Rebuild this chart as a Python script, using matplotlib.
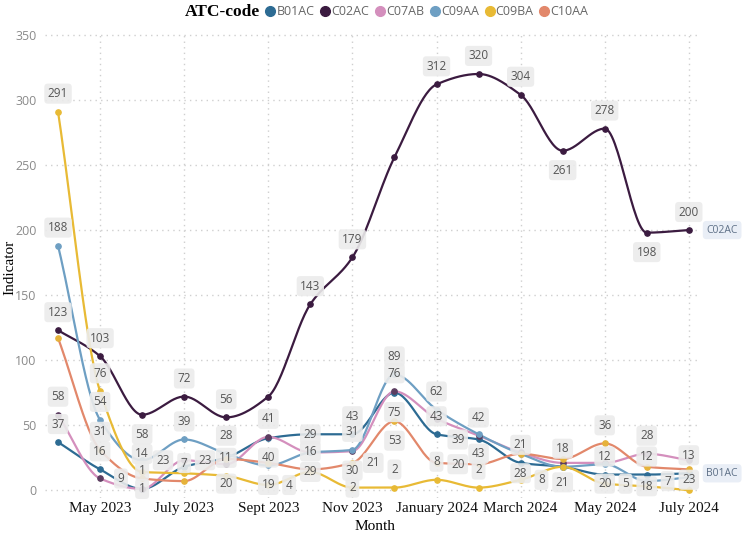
import numpy as np
import matplotlib.pyplot as plt
from matplotlib.lines import Line2D

# months Apr 2023 .. Jul 2024
months = ['Apr 2023', 'May 2023', 'Jun 2023', 'Jul 2023', 'Aug 2023', 'Sep 2023',
          'Oct 2023', 'Nov 2023', 'Dec 2023', 'Jan 2024', 'Feb 2024', 'Mar 2024',
          'Apr 2024', 'May 2024', 'Jun 2024', 'Jul 2024']
tick_idx = [1, 3, 5, 7, 9, 11, 13, 15]
tick_labels = ['May 2023', 'July 2023', 'Sept 2023', 'Nov 2023', 'January 2024',
               'March 2024', 'May 2024', 'July 2024']

b01ac = [37, 16, 1, 18, 25, 40, 43, 43, 75, 43, 39, 21, 18, 12, 12, 13]
c02ac = [123, 103, 58, 72, 56, 72, 143, 179, 256, 312, 320, 304, 261, 278, 198, 200]
c07ab = [58, 9, 1, 23, 20, 41, 29, 30, 76, 55, 42, 29, 21, 21, 28, 23]
c09aa = [188, 54, 23, 39, 28, 19, 29, 31, 89, 62, 43, 28, 18, 20, 7, 10]
c09ba = [291, 76, 14, 13, 11, 4, 14, 2, 2, 8, 2, 8, 18, 5, 3, 0]
c10aa = [117, 31, 9, 7, 24, 21, 16, 21, 53, 21, 20, 28, 24, 36, 18, 16]

# where the data label sits: a=above, b=below, r=right, l=left, c=on point
b01ac_lab = {0: 'a', 1: 'a', 2: 'a', 5: 'b', 7: 'a', 8: 'b', 9: 'a', 10: 'l',
             11: 'a', 13: 'a', 14: 'a', 15: 'a'}
c02ac_lab = {0: 'a', 1: 'a', 2: 'b', 3: 'a', 4: 'a', 6: 'a', 7: 'a', 9: 'a',
             10: 'a', 11: 'a', 12: 'b', 13: 'a', 14: 'b', 15: 'a'}
c07ab_lab = {0: 'a', 1: 'r', 2: 'c', 3: 'r', 4: 'b', 5: 'a', 6: 'b', 7: 'b',
             8: 'a', 10: 'a', 12: 'b', 14: 'a', 15: 'b'}
c09aa_lab = {0: 'a', 1: 'a', 2: 'r', 3: 'a', 4: 'a', 5: 'b', 6: 'a', 7: 'a',
             8: 'a', 9: 'a', 10: 'b', 13: 'b', 14: 'r'}
c09ba_lab = {0: 'a', 1: 'a', 2: 'a', 4: 'a', 5: 'r', 7: 'c', 8: 'a', 9: 'a',
             10: 'a', 11: 'r', 12: 'a', 13: 'r'}
c10aa_lab = {1: 'a', 3: 'a', 6: 'a', 7: 'r', 8: 'b', 10: 'l', 11: 'b', 13: 'a', 14: 'b'}

series = [
    ('B01AC', b01ac, '#2d6b93', '#2d6b93', b01ac_lab),
    ('C02AC', c02ac, '#3b1b40', '#3b1b40', c02ac_lab),
    ('C07AB', c07ab, '#d48fbd', '#5c3d60', c07ab_lab),
    ('C09AA', c09aa, '#6e9fc3', '#6e9fc3', c09aa_lab),
    ('C09BA', c09ba, '#e8ba35', '#e8ba35', c09ba_lab),
    ('C10AA', c10aa, '#e2886b', '#e6b23a', c10aa_lab),
]

offsets = {'a': (0, 13), 'b': (0, -14), 'r': (15, 0), 'l': (-15, 0), 'c': (0, 0)}


def smooth(y, n=30):
    """monotone cubic through the points, only for drawing the curve"""
    y = np.asarray(y, float)
    x = np.arange(len(y), dtype=float)
    d = np.diff(y)
    m = np.zeros_like(y)
    m[0], m[-1] = d[0], d[-1]
    for k in range(1, len(y) - 1):
        if d[k - 1] * d[k] > 0:
            m[k] = 2 * d[k - 1] * d[k] / (d[k - 1] + d[k])
    xs, ys = [], []
    t = np.linspace(0, 1, n)
    for k in range(len(y) - 1):
        h00 = 2 * t**3 - 3 * t**2 + 1
        h10 = t**3 - 2 * t**2 + t
        h01 = -2 * t**3 + 3 * t**2
        h11 = t**3 - t**2
        xs.append(x[k] + t)
        ys.append(h00 * y[k] + h10 * m[k] + h01 * y[k + 1] + h11 * m[k + 1])
    return np.concatenate(xs), np.concatenate(ys)


fig = plt.figure(figsize=(7.5, 5.34), dpi=100)
ax = fig.add_axes([0.06, 0.0674, 0.873, 0.872])

x = np.arange(len(months))
for name, vals, col, mcol, labs in series:
    sx, sy = smooth(vals)
    ax.plot(sx, sy, color=col, lw=1.6, zorder=3)
    ax.plot(x, vals, 'o', color=mcol, ms=3.8, zorder=4)
    for i, pos in labs.items():
        ax.annotate(str(vals[i]), (x[i], vals[i]), xytext=offsets[pos],
                    textcoords='offset points', ha='center', va='center',
                    fontsize=8.5, color='#555555', family='Open Sans', zorder=5,
                    bbox=dict(boxstyle='round,pad=0.3', fc='#ebebeb', ec='none', alpha=0.9))

# end labels
for name, vals in [('C02AC', c02ac), ('B01AC', b01ac)]:
    ax.annotate(name, (x[-1], vals[-1]), xytext=(24, 0), textcoords='offset points',
                ha='center', va='center', fontsize=7.5, color='#5d6f86',
                family='Open Sans', annotation_clip=False,
                bbox=dict(boxstyle='round,pad=0.35', fc='#e9eef6', ec='none'))

ax.set_xlim(-0.31, 15.26)
ax.set_ylim(-6, 352)
ax.set_yticks(range(0, 351, 50))
ax.set_xticks(tick_idx)
ax.set_xticklabels(tick_labels, family='Liberation Serif', fontsize=11, color='#111111')
for t in ax.get_yticklabels():
    t.set_family('Open Sans')
    t.set_fontsize(9)
    t.set_color('#8a8a8a')
ax.tick_params(length=0, pad=6)
ax.tick_params(axis='x', pad=3)
ax.grid(True, ls=(0, (1, 3)), color='#cfcfcf', lw=1)
for s in ax.spines.values():
    s.set_visible(False)

fig.text(0.5, 0.014, 'Month', family='Liberation Serif', fontsize=11, ha='center', va='center')
fig.text(0.013, 0.5, 'Indicator', family='Liberation Serif', fontsize=11, rotation=90,
         ha='center', va='center')

fig.text(0.246, 0.978, 'ATC-code', family='Liberation Serif', fontweight='bold',
         fontsize=12.5, va='center')
handles = [Line2D([], [], ls='none', marker='o', ms=7, color=c) for _, _, c, _, _ in series]
leg = fig.legend(handles, [s[0] for s in series], loc='center left',
                 bbox_to_anchor=(0.352, 0.978), ncol=6, frameon=False,
                 handletextpad=0.0, columnspacing=0.35, handlelength=1.0,
                 borderaxespad=0, borderpad=0,
                 prop={'family': 'Open Sans', 'size': 9})
for t in leg.get_texts():
    t.set_color('#666666')

fig.savefig('out.png', dpi=100)
